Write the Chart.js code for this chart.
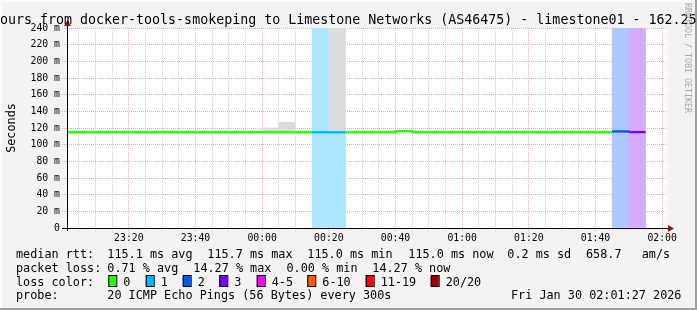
<!DOCTYPE html>
<html>
<head>
<meta charset="utf-8">
<script src="https://cdn.jsdelivr.net/npm/chart.js@4.4.1/dist/chart.umd.min.js"></script>
<style>
  body { margin: 0; background: #f3f3f3; }
  canvas { display: block; }
</style>
</head>
<body>
<canvas id="grafico" width="697" height="310"></canvas>
<script>
// ventana del grafico (3 horas)
const vistaInicio = '23:01:27'
const vistaFin = '02:01:27'

// inicio de cada intervalo de 5 min, minutos despues de las 23:00
const slotInicio = [0, 5, 10, 15, 20, 25, 30, 35, 40, 45, 50, 55, 60, 65, 70, 75, 80, 85, 90, 95,
  100, 105, 110, 115, 120, 125, 130, 135, 140, 145, 150, 155, 160, 165, 170]
// mediana rtt (ms)
const medianaRtt = [115, 115, 115, 115, 115, 115, 115, 115, 115, 115, 115, 115, 115, 115, 115, 115, 115, 115, 115, 115,
  116.5, 115, 115, 115, 115, 115, 115, 115, 115, 115, 115, 115, 115, 115.8, 115]
// pings perdidos de 20
const perdidas = [0, 0, 0, 0, 0, 0, 0, 0, 0, 0, 0, 0, 0, 0, 0, 1, 1, 0, 0, 0,
  0, 0, 0, 0, 0, 0, 0, 0, 0, 0, 0, 0, 0, 2, 3]
// humo (rango de rtt)
const humoMin = [114, 114, 114, 114, 114, 114, 114, 114, 114, 114, 114, 114, 114, 114, 114, 114, 114, 114, 114, 114,
  114, 114, 114, 114, 114, 114, 114, 114, 114, 114, 114, 114, 114, 114, 114]
const humoMax = [115.5, 115.5, 115.5, 115.5, 115.5, 115.5, 117.5, 115.5, 115.5, 116.5, 115.5, 115.5, 120, 127, 116.5, 115.5, 260, 115.5, 115.5, 115.5,
  115.5, 115.5, 115.5, 115.5, 115.5, 115.5, 115.5, 115.5, 115.5, 115.5, 115.5, 115.5, 115.5, 115.5, 115.5]

const etiquetasX = ['23:20', '23:40', '00:00', '00:20', '00:40', '01:00', '01:20', '01:40', '02:00']
const etiquetasY = ['0', '20 m', '40 m', '60 m', '80 m', '100 m', '120 m', '140 m', '160 m', '180 m', '200 m', '220 m', '240 m']

const coloresPerdida = ['#26ff00', '#00b8ff', '#0059ff', '#7e00ff', '#ff00ff', '#ff5500', '#ff0000', '#a10000']
const nombresPerdida = ['0', '1', '2', '3', '4-5', '6-10', '11-19', '20/20']

const titulo = 'ours from docker-tools-smokeping to Limestone Networks (AS46475) - limestone01 - 162.25'
const lineaRtt = ['median rtt:', '115.1 ms avg', '115.7 ms max', '115.0 ms min', '115.0 ms now', '0.2 ms sd', '658.7', 'am/s']
const lineaPerdida = ['packet loss:', '0.71 % avg', '14.27 % max', '0.00 % min', '14.27 % now']
const lineaProbe = ['probe:', '20 ICMP Echo Pings (56 Bytes) every 300s', 'Fri Jan 30 02:01:27 2026']

const fuente = 'DejaVu Sans Mono'
const rojo = '#f2a6a6'
const gris = '#d2d2d2'

const aMinutos = (hora) => {
  const p = hora.split(':').map(Number)
  let h = p[0]
  if (h < 12) h += 24
  return (h - 23) * 60 + p[1] + (p[2] || 0) / 60
}

const indicePerdida = (n) => {
  if (n <= 3) return n
  if (n <= 5) return 4
  if (n <= 10) return 5
  if (n <= 19) return 6
  return 7
}

const aclarar = (hex) => {
  const r = parseInt(hex.slice(1, 3), 16), g = parseInt(hex.slice(3, 5), 16), b = parseInt(hex.slice(5, 7), 16)
  const f = (c) => Math.round(255 - (255 - c) * 0.33)
  return `rgb(${f(r)},${f(g)},${f(b)})`
}

const paso = slotInicio[1] - slotInicio[0]
const bandas = []
const coloresBandas = []
slotInicio.forEach((s, i) => {
  if (perdidas[i] > 0) {
    bandas.push({ x: s + paso / 2, y: [0, 240] })
    coloresBandas.push(aclarar(coloresPerdida[indicePerdida(perdidas[i])]))
  }
})
const humo = slotInicio.map((s, i) => ({ x: s + paso / 2, y: [humoMin[i], humoMax[i]] }))
const mediana = slotInicio.map((s, i) => ({ x: s, y: medianaRtt[i] }))
mediana.push({ x: slotInicio[slotInicio.length - 1] + paso, y: medianaRtt[medianaRtt.length - 1] })

const marcasX = []
for (let m = 5; m <= 180; m += 5) marcasX.push(m)
const marcasY = []
for (let v = 0; v <= 240; v += 10) marcasY.push(v)

const etiquetaX = (v) => {
  if (v % 20 !== 0) return ''
  const h = (23 + Math.floor(v / 60)) % 24
  const txt = String(h).padStart(2, '0') + ':' + String(v % 60).padStart(2, '0')
  return etiquetasX.includes(txt) ? txt : ''
}
const etiquetaY = (v) => (v % 20 === 0 ? etiquetasY[v / 20] : '')

const fondo = {
  id: 'fondo',
  beforeDraw(chart) {
    const ctx = chart.ctx
    const a = chart.chartArea
    ctx.save()
    ctx.fillStyle = '#f3f3f3'
    ctx.fillRect(0, 0, chart.width, chart.height)
    ctx.fillStyle = '#fcfcfc'
    ctx.fillRect(0, 0, chart.width, 2)
    ctx.fillRect(0, 0, 2, chart.height)
    ctx.fillStyle = '#9f9f9f'
    ctx.fillRect(0, chart.height - 2, chart.width, 2)
    ctx.fillRect(chart.width - 2, 0, 2, chart.height)
    ctx.fillStyle = '#ffffff'
    ctx.fillRect(a.left, a.top, a.right - a.left, a.bottom - a.top)
    ctx.restore()
  },
  afterDraw(chart) {
    const ctx = chart.ctx
    const a = chart.chartArea
    // linea de mediana encima de la grilla
    ctx.save()
    ctx.beginPath()
    ctx.rect(a.left, a.top, a.right - a.left, a.bottom - a.top)
    ctx.clip()
    chart.getDatasetMeta(2).controller.draw()
    ctx.restore()

    ctx.save()
    // ejes
    ctx.strokeStyle = '#000'
    ctx.lineWidth = 1
    ctx.beginPath()
    ctx.moveTo(a.left - 5, a.bottom + 0.5)
    ctx.lineTo(a.right + 3, a.bottom + 0.5)
    ctx.moveTo(a.left + 0.5, a.bottom + 3)
    ctx.lineTo(a.left + 0.5, a.top - 4)
    ctx.stroke()
    ctx.fillStyle = '#8b1a1a'
    ctx.beginPath()
    ctx.moveTo(a.right + 1, a.bottom - 3)
    ctx.lineTo(a.right + 7, a.bottom + 0.5)
    ctx.lineTo(a.right + 1, a.bottom + 4)
    ctx.fill()
    ctx.beginPath()
    ctx.moveTo(a.left - 3, a.top - 2)
    ctx.lineTo(a.left + 0.5, a.top - 8)
    ctx.lineTo(a.left + 4, a.top - 2)
    ctx.fill()

    // titulo
    ctx.fillStyle = '#000'
    ctx.font = `13.3px ${fuente}`
    ctx.textBaseline = 'alphabetic'
    ctx.textAlign = 'left'
    ctx.fillText(titulo, 0, 24)

    // titulo eje y
    ctx.font = `11.8px ${fuente}`
    ctx.save()
    ctx.translate(15, (a.top + a.bottom) / 2)
    ctx.rotate(-Math.PI / 2)
    ctx.textAlign = 'center'
    ctx.fillText('Seconds', 0, 0)
    ctx.restore()

    // marca de agua
    ctx.save()
    ctx.font = `8.3px ${fuente}`
    ctx.fillStyle = '#a8a8a8'
    ctx.translate(685, 0)
    ctx.rotate(Math.PI / 2)
    ctx.fillText('RRDTOOL / TOBI OETIKER', 3, 0)
    ctx.restore()

    // leyenda
    ctx.font = `11.8px ${fuente}`
    ctx.fillStyle = '#000'
    const x1 = [16, 107.3, 207.3, 307.3, 408.3, 507.3, 586, 641.7]
    lineaRtt.forEach((t, i) => ctx.fillText(t, x1[i], 258))
    const x2 = [16, 107.3, 193.3, 286.5, 372.3]
    lineaPerdida.forEach((t, i) => ctx.fillText(t, x2[i], 271.8))
    ctx.fillText('loss color:', 16, 285.6)
    const xc = [108.3, 145.7, 182.7, 219.3, 256.7, 307.3, 365.7, 430.7]
    nombresPerdida.forEach((t, i) => {
      ctx.fillStyle = coloresPerdida[i]
      ctx.fillRect(xc[i], 275.5, 8, 11)
      ctx.strokeStyle = '#000'
      ctx.strokeRect(xc[i] + 0.5, 275.5, 8, 11)
      ctx.fillStyle = '#000'
      ctx.fillText(t, xc[i] + 15, 285.6)
    })
    ctx.fillText(lineaProbe[0], 16, 299.4)
    ctx.fillText(lineaProbe[1], 107.3, 299.4)
    ctx.fillText(lineaProbe[2], 511, 299.4)
    ctx.restore()
  }
}

new Chart(document.getElementById('grafico'), {
  type: 'bar',
  data: {
    datasets: [
      {
        type: 'bar', label: 'loss', data: bandas, backgroundColor: coloresBandas,
        grouped: false, barPercentage: 1, categoryPercentage: 1, clip: 0, order: 3
      },
      {
        type: 'bar', label: 'smoke', data: humo, backgroundColor: '#dcdcdc',
        grouped: false, barPercentage: 1, categoryPercentage: 1, clip: 0, order: 2
      },
      {
        type: 'line', label: 'median rtt', data: mediana, stepped: true, borderWidth: 2,
        pointRadius: 0, clip: 0, order: 1, borderColor: coloresPerdida[0],
        segment: { borderColor: (c) => coloresPerdida[indicePerdida(perdidas[c.p0DataIndex])] }
      }
    ]
  },
  options: {
    responsive: false,
    animation: false,
    devicePixelRatio: 1,
    layout: { padding: { top: 28, right: 30, left: 0, bottom: 0 } },
    plugins: { legend: { display: false }, tooltip: { enabled: false } },
    scales: {
      x: {
        type: 'linear',
        min: aMinutos(vistaInicio),
        max: aMinutos(vistaFin),
        offset: false,
        z: 1,
        afterBuildTicks: (axis) => { axis.ticks = marcasX.map((v) => ({ value: v })) },
        afterFit: (axis) => { axis.height = 82 },
        grid: {
          offset: false,
          color: (c) => (c.tick && c.tick.value % 20 === 0 ? rojo : gris),
          tickColor: (c) => (c.tick && c.tick.value % 20 === 0 ? rojo : gris),
          tickLength: 3,
          tickBorderDash: [1, 1]
        },
        border: { display: false, dash: [1, 1] },
        ticks: {
          autoSkip: false, maxRotation: 0, minRotation: 0, padding: 2,
          color: '#000', font: { family: fuente, size: 9.8 },
          callback: (v) => etiquetaX(v)
        }
      },
      y: {
        type: 'linear',
        min: 0,
        max: 240,
        z: 1,
        afterBuildTicks: (axis) => { axis.ticks = marcasY.map((v) => ({ value: v })) },
        afterFit: (axis) => { axis.width = 67 },
        grid: {
          color: (c) => (c.tick && c.tick.value % 20 === 0 ? rojo : gris),
          tickColor: (c) => (c.tick && c.tick.value % 20 === 0 ? rojo : gris),
          tickLength: 5,
          tickBorderDash: [1, 1]
        },
        border: { display: false, dash: [1, 1] },
        ticks: {
          padding: 2, color: '#000', font: { family: fuente, size: 9.8 },
          callback: (v) => etiquetaY(v)
        }
      }
    }
  },
  plugins: [fondo]
})
</script>
</body>
</html>
